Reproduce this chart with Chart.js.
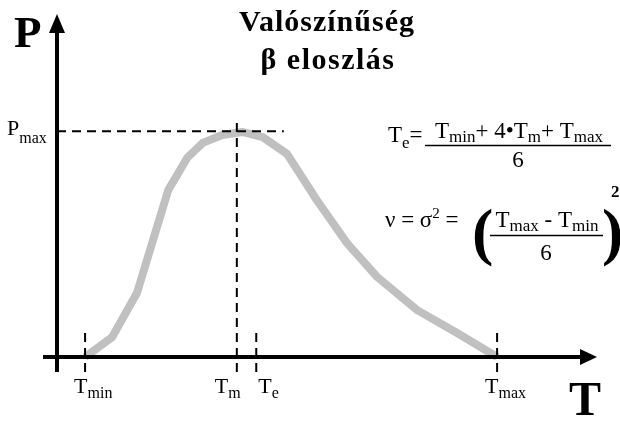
<!DOCTYPE html>
<html>
<head>
<meta charset="utf-8">
<script src="https://cdn.jsdelivr.net/npm/chart.js@4.4.1/dist/chart.umd.min.js"></script>
<style>
  html, body { margin: 0; padding: 0; background: #fff; }
</style>
</head>
<body>
<canvas id="betaChart" width="620" height="421"></canvas>
<script>
// beta distribution curve (T in arbitrary units, P in % of chart height)
const curveX = [5.2, 10.2, 14.8, 20.6, 24.1, 27.0, 30.6, 34.3, 38.1, 42.6, 48.1, 53.7, 59.3, 66.7, 74.1, 81.5];
const curveY = [0, 5.8, 18.7, 48.8, 58.2, 62.6, 64.9, 65.8, 64.3, 59.4, 45.9, 33.3, 23.4, 13.7, 7.0, 0];

// marked points on the T axis
const markerNames = ["min", "m", "e", "max"];
const markerValues = [5.2, 33.3, 36.9, 81.5];
const markerTops = [8, 70, 8, 8];
const markerBottom = -4.4;

const pMax = 66;
const pMaxLineEnd = 42;

// label offsets (px) relative to each marker line
const labelShift = [-11, -22, 2, -12];

const SERIF = "'Liberation Serif', 'Times New Roman', serif";
function font(size, bold) {
  return (bold ? "bold " : "") + size + "px " + SERIF;
}
function setRun(ctx, r) {
  ctx.font = font(r.size, r.bold);
  ctx.letterSpacing = (r.ls || 0) + "px";
}
function runsWidth(ctx, runs) {
  let w = 0;
  for (const r of runs) {
    setRun(ctx, r);
    w += ctx.measureText(r.t).width;
  }
  return w;
}
function drawRuns(ctx, runs, x, y, align) {
  let cx = align === "center" ? x - runsWidth(ctx, runs) / 2 : x;
  for (const r of runs) {
    setRun(ctx, r);
    ctx.fillText(r.t, cx, y + (r.dy || 0));
    cx += ctx.measureText(r.t).width;
  }
  ctx.letterSpacing = "0px";
}

const dashedSets = markerValues.map((v, i) => ({
  data: [{ x: v, y: markerBottom }, { x: v, y: markerTops[i] }],
  borderColor: "#000",
  borderWidth: 2,
  borderDash: [9, 6],
  pointRadius: 0,
  order: 1,
}));
dashedSets.push({
  data: [{ x: 0, y: pMax }, { x: pMaxLineEnd, y: pMax }],
  borderColor: "#000",
  borderWidth: 2,
  borderDash: [9, 6],
  pointRadius: 0,
  order: 1,
});

const axesPlugin = {
  id: "axesPlugin",
  afterDatasetsDraw(chart) {
    const ctx = chart.ctx;
    const xs = chart.scales.x, ys = chart.scales.y;
    const x0 = xs.getPixelForValue(0);
    const y0 = ys.getPixelForValue(0);
    ctx.save();
    ctx.strokeStyle = "#000";
    ctx.fillStyle = "#000";
    ctx.lineWidth = 4;
    // T axis
    ctx.beginPath();
    ctx.moveTo(43, y0);
    ctx.lineTo(582, y0);
    ctx.stroke();
    ctx.beginPath();
    ctx.moveTo(597, y0);
    ctx.lineTo(580, y0 - 8);
    ctx.lineTo(580, y0 + 8);
    ctx.closePath();
    ctx.fill();
    // P axis
    ctx.beginPath();
    ctx.moveTo(x0, ys.getPixelForValue(markerBottom));
    ctx.lineTo(x0, 30);
    ctx.stroke();
    ctx.beginPath();
    ctx.moveTo(x0, 14);
    ctx.lineTo(x0 - 8, 33);
    ctx.lineTo(x0 + 8, 33);
    ctx.closePath();
    ctx.fill();
    ctx.restore();
  },
  afterDraw(chart) {
    const ctx = chart.ctx;
    const xs = chart.scales.x, ys = chart.scales.y;
    ctx.save();
    ctx.fillStyle = "#000";
    ctx.strokeStyle = "#000";
    ctx.textBaseline = "alphabetic";
    ctx.textAlign = "left";

    // title
    drawRuns(ctx, [{ t: "Valószínűség", size: 30, bold: true, ls: 1 }], 327, 31, "center");
    drawRuns(ctx, [{ t: "β eloszlás", size: 30, bold: true, ls: 1.5 }], 328, 69, "center");

    // axis names
    drawRuns(ctx, [{ t: "P", size: 45, bold: true }], 14, 47);
    drawRuns(ctx, [{ t: "T", size: 48, bold: true }], 569, 415);

    // P max label
    const py = ys.getPixelForValue(pMax);
    drawRuns(ctx, [{ t: "P", size: 22 }, { t: "max", size: 16, dy: 8 }], 7, py + 4);

    // T labels
    markerNames.forEach((n, i) => {
      const px = xs.getPixelForValue(markerValues[i]) + labelShift[i];
      drawRuns(ctx, [{ t: "T", size: 22 }, { t: n, size: 16, dy: 5 }], px, 393);
    });

    // Te formula
    drawRuns(ctx, [{ t: "T", size: 23 }, { t: "e", size: 17, dy: 6 }, { t: "=", size: 23 }], 388, 142);
    ctx.lineWidth = 1.5;
    ctx.beginPath();
    ctx.moveTo(425, 145.5);
    ctx.lineTo(611, 145.5);
    ctx.stroke();
    drawRuns(ctx, [
      { t: "T", size: 23 }, { t: "min", size: 17, dy: 4 },
      { t: "+ 4•T", size: 23 }, { t: "m", size: 17, dy: 4 },
      { t: "+ T", size: 23 }, { t: "max", size: 17, dy: 4 },
    ], 519, 138, "center");
    drawRuns(ctx, [{ t: "6", size: 23 }], 518, 167, "center");

    // variance formula
    drawRuns(ctx, [{ t: "ν = σ", size: 23 }, { t: "2", size: 15, dy: -9 }, { t: " = ", size: 23 }], 385, 227);
    drawRuns(ctx, [{ t: "(", size: 64, bold: true }], 472, 253);
    drawRuns(ctx, [
      { t: "T", size: 23 }, { t: "max", size: 17, dy: 4 },
      { t: " - T", size: 23 }, { t: "min", size: 17, dy: 4 },
    ], 547, 227, "center");
    ctx.beginPath();
    ctx.moveTo(490, 235.5);
    ctx.lineTo(603, 235.5);
    ctx.stroke();
    drawRuns(ctx, [{ t: "6", size: 23 }], 546, 260, "center");
    drawRuns(ctx, [{ t: ")", size: 64, bold: true }], 602, 253);
    drawRuns(ctx, [{ t: "2", size: 17, bold: true }], 611, 197);
    ctx.restore();
  },
};

new Chart(document.getElementById("betaChart"), {
  type: "line",
  data: {
    datasets: [
      ...dashedSets,
      {
        data: curveX.map((x, i) => ({ x: x, y: curveY[i] })),
        borderColor: "#c0c0c0",
        borderWidth: 8,
        borderJoinStyle: "round",
        pointRadius: 0,
        tension: 0,
        order: 10,
      },
    ],
  },
  options: {
    responsive: false,
    animation: false,
    layout: { padding: 0 },
    scales: {
      x: { type: "linear", display: false, min: -57 / 5.4, max: 563 / 5.4 },
      y: { type: "linear", display: false, min: -64 / 3.42, max: 357 / 3.42 },
    },
    plugins: {
      legend: { display: false },
      tooltip: { enabled: false },
    },
  },
  plugins: [axesPlugin],
});
</script>
</body>
</html>
